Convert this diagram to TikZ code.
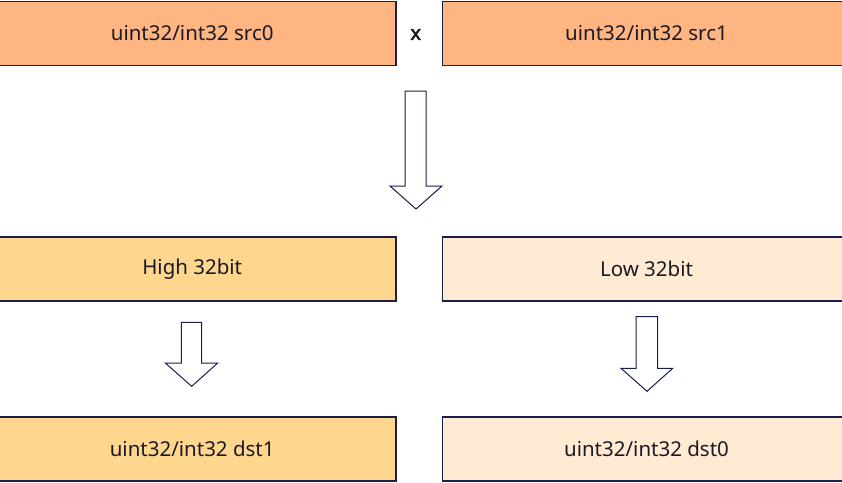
\documentclass[tikz,border=0pt]{standalone}
\usepackage{fontspec}
\setmainfont{Noto Sans}
\newfontfamily\boldx{Noto Sans}[FakeBold=2.5]
\definecolor{topfill}{HTML}{FFB581}
\definecolor{midfill}{HTML}{FFD68D}
\definecolor{lightfill}{HTML}{FFEAD3}
\definecolor{edge}{HTML}{1B1E4B}
\definecolor{txt}{HTML}{1A1A24}
\tikzset{
  box/.style={draw=edge, line width=1.5pt, rectangle, minimum height=64pt, minimum width=408pt, inner sep=0pt, font=\fontsize{20.5}{24}\selectfont, text=txt},
  blockarrow/.style={draw=edge, line width=1pt, fill=white, line join=miter}
}
\begin{document}
\begin{tikzpicture}[x=1pt,y=-1pt]
\useasboundingbox (0,0) rectangle (842,482);
\begin{scope}
\clip (0,0) rectangle (842,482);
\node[box, fill=topfill] (src0) at (192.2,33.3) {uint32/int32 src0};
\node[box, fill=topfill] (src1) at (646.5,33.3) {uint32/int32 src1};
\node[font=\boldx\fontsize{20}{24}\selectfont, text=txt] (mul) at (415.7,34.5) {x};
\node[box, fill=midfill] (high) at (192.2,269) {High 32bit};
\node[box, fill=lightfill] (low) at (646.5,269) {Low 32bit};
\node[box, fill=midfill] (dst1) at (192.2,448.8) {uint32/int32 dst1};
\node[box, fill=lightfill] (dst0) at (646.5,448.8) {uint32/int32 dst0};
\draw[blockarrow] (405,91) -- (426,91) -- (426,186) -- (442,186) -- (416,209) -- (390,186) -- (405,186) -- cycle;
\draw[blockarrow] (181.3,322.3) -- (201.7,322.3) -- (201.7,363) -- (217.7,363) -- (191.7,386.3) -- (165.3,363) -- (181.3,363) -- cycle;
\draw[blockarrow] (636,316.7) -- (657.7,316.7) -- (657.7,368.3) -- (672.7,368.3) -- (647,391.3) -- (621,368.3) -- (636,368.3) -- cycle;
\end{scope}
\end{tikzpicture}
\end{document}
